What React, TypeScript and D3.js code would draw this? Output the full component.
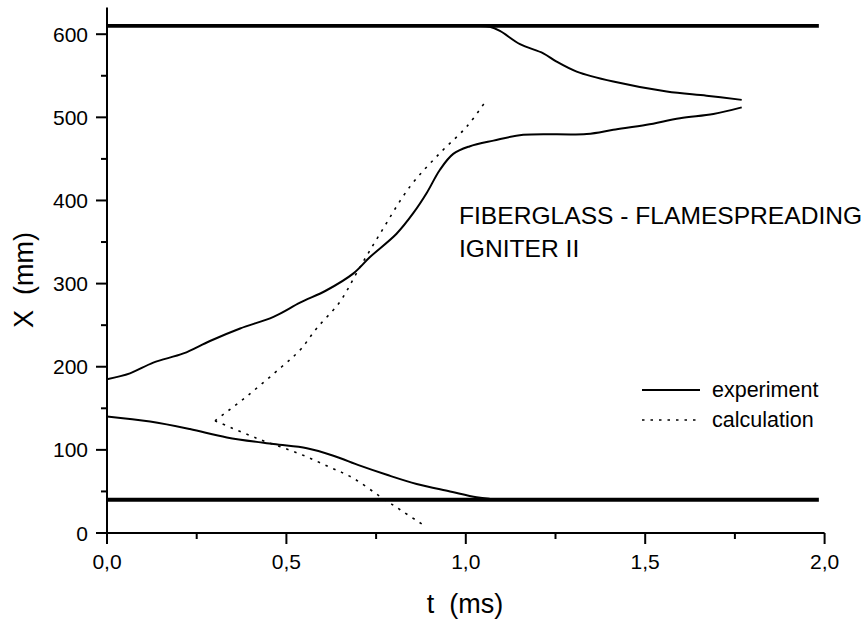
import React from "react";
import * as d3 from "d3";

// time (ms) / position (mm) readings
const expRising = [
  [0, 185], [0.064, 192], [0.129, 205], [0.213, 216], [0.287, 231], [0.371, 246],
  [0.464, 260], [0.538, 277], [0.612, 292], [0.686, 312], [0.733, 332], [0.807, 360],
  [0.854, 385], [0.891, 409], [0.928, 437], [0.965, 456], [1.01, 465], [1.077, 472],
  [1.16, 479], [1.337, 480], [1.411, 485], [1.504, 491], [1.597, 499], [1.69, 504],
  [1.769, 512],
];
const expFalling = [
  [1.04, 610], [1.067, 609], [1.095, 604], [1.151, 588], [1.216, 577], [1.253, 567],
  [1.309, 555], [1.411, 543], [1.56, 531], [1.671, 526], [1.769, 521],
];
const expLower = [
  [0, 140], [0.12, 134], [0.231, 125], [0.334, 115], [0.464, 107], [0.557, 102],
  [0.631, 93], [0.705, 81], [0.78, 70], [0.863, 59], [0.956, 50], [1.03, 43],
  [1.067, 41], [1.1, 40],
];
const calcLower = [
  [0.301, 135], [0.417, 114], [0.538, 95], [0.622, 79], [0.686, 66], [0.761, 44],
  [0.817, 28], [0.877, 11],
];
const calcUpper = [
  [0.301, 135], [0.394, 166], [0.487, 200], [0.538, 220], [0.584, 246], [0.649, 278],
  [0.7, 316], [0.761, 360], [0.845, 417], [0.928, 457], [1.003, 489], [1.058, 521],
];
const wallPositions = [40, 610];
const wallEnd = 1.984;

const tMajor = [0, 0.5, 1, 1.5, 2];
const tMinor = [0.25, 0.75, 1.25, 1.75];
const xMajor = [0, 100, 200, 300, 400, 500, 600];
const xMinor = [50, 150, 250, 350, 450, 550];

const FONT = "Arial, 'Liberation Sans', Helvetica, sans-serif";

export default function App() {
  const x = d3.scaleLinear().domain([0, 2]).range([107, 824.6]);
  const y = d3.scaleLinear().domain([0, 632]).range([533, 7.6]);

  const smooth = d3
    .line<number[]>()
    .x((d) => x(d[0]))
    .y((d) => y(d[1]))
    .curve(d3.curveCatmullRom.alpha(0.5));

  const fmt = (v: number) => d3.format(".1f")(v).replace(".", ",");

  return (
    <svg
      width={866}
      height={624}
      style={{ position: "absolute", left: 0, top: 0, background: "#fff" }}
      fontFamily={FONT}
    >
      {/* walls */}
      {wallPositions.map((w) => (
        <line key={w} x1={x(0)} x2={x(wallEnd)} y1={y(w)} y2={y(w)} stroke="#000" strokeWidth={3.8} />
      ))}

      {/* experiment */}
      {[expRising, expFalling, expLower].map((s, i) => (
        <path key={i} d={smooth(s) || ""} fill="none" stroke="#000" strokeWidth={2} />
      ))}

      {/* calculation */}
      {[calcLower, calcUpper].map((s, i) => (
        <path key={i} d={smooth(s) || ""} fill="none" stroke="#000" strokeWidth={1.6} strokeDasharray="2.5,6" />
      ))}

      {/* axes */}
      <line x1={x(0)} x2={x(0)} y1={y(0)} y2={y.range()[1]} stroke="#000" strokeWidth={2} />
      <line x1={x(0)} x2={x(2)} y1={y(0)} y2={y(0)} stroke="#000" strokeWidth={2} />
      {xMajor.map((v) => (
        <g key={v}>
          <line x1={x(0) - 11} x2={x(0)} y1={y(v)} y2={y(v)} stroke="#000" strokeWidth={2} />
          <text x={88} y={y(v) + 7.5} textAnchor="end" fontSize={21}>{v}</text>
        </g>
      ))}
      {xMinor.map((v) => (
        <line key={v} x1={x(0) - 6} x2={x(0)} y1={y(v)} y2={y(v)} stroke="#000" strokeWidth={2} />
      ))}
      {tMajor.map((v) => (
        <g key={v}>
          <line x1={x(v)} x2={x(v)} y1={y(0)} y2={y(0) + 11} stroke="#000" strokeWidth={2} />
          <text x={x(v)} y={568.5} textAnchor="middle" fontSize={21}>{fmt(v)}</text>
        </g>
      ))}
      {tMinor.map((v) => (
        <line key={v} x1={x(v)} x2={x(v)} y1={y(0)} y2={y(0) + 6} stroke="#000" strokeWidth={2} />
      ))}

      {/* axis titles */}
      <text x={465} y={613} textAnchor="middle" fontSize={27} xmlSpace="preserve">t  (ms)</text>
      <text
        transform="translate(33,280) rotate(-90)"
        textAnchor="middle"
        fontSize={27}
        xmlSpace="preserve"
      >
        X  (mm)
      </text>

      {/* annotation */}
      <text x={459} y={224} fontSize={24.6}>FIBERGLASS - FLAMESPREADING</text>
      <text x={459} y={257} fontSize={24.6}>IGNITER II</text>

      {/* legend */}
      <line x1={642} x2={700} y1={390} y2={390} stroke="#000" strokeWidth={2} />
      <text x={712} y={397} fontSize={21.5}>experiment</text>
      <line x1={642} x2={697} y1={420} y2={420} stroke="#000" strokeWidth={1.6} strokeDasharray="2.5,6" />
      <text x={712} y={427} fontSize={21.5}>calculation</text>
    </svg>
  );
}
